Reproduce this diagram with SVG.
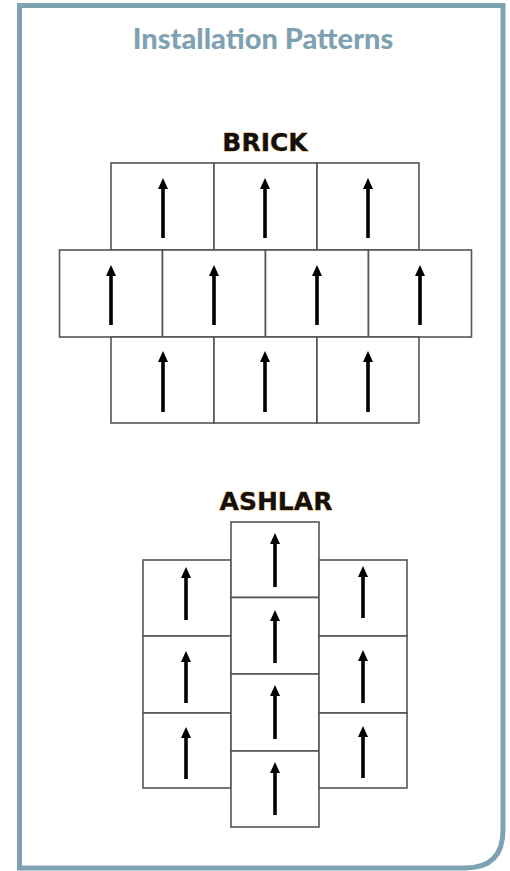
<svg xmlns="http://www.w3.org/2000/svg" width="510" height="871" viewBox="0 0 510 871">
<style>
.frame{fill:#ffffff;stroke:#7fa2b2;stroke-width:5}
.title{font-family:Lato,"Open Sans",sans-serif;font-weight:900;font-size:29px;fill:#7fa2b2}
.label{font-family:"DejaVu Sans","Liberation Sans",sans-serif;font-weight:bold;font-size:25px;fill:#111;stroke:#e9a23c;stroke-width:0.8;paint-order:stroke}
.tile{fill:#ffffff;stroke:#555555;stroke-width:1.6}
.arr{stroke:#000;stroke-width:3.6;fill:none;marker-end:url(#head)}
</style>
<defs>
<marker id="head" markerUnits="userSpaceOnUse" viewBox="0 0 12 11" markerWidth="12" markerHeight="11" refX="1" refY="5.5" orient="auto">
<path d="M0,0.5 L11,5.5 L0,10.5 z" fill="#000"/>
</marker>
</defs>
<path class="frame" d="M19.5,5.5 H503 V830 Q503,868 465,868 H19.5 Z"/>
<text class="title" x="263" y="49" text-anchor="middle">Installation Patterns</text>

<g id="brick">
<text class="label" x="265" y="151" text-anchor="middle">BRICK</text>
<g id="b1"><rect class="tile" x="111" y="163" width="103" height="87"/><line class="arr" x1="163" y1="238" x2="163" y2="188"/></g>
<g id="b2"><rect class="tile" x="214" y="163" width="103" height="87"/><line class="arr" x1="265" y1="238" x2="265" y2="188"/></g>
<g id="b3"><rect class="tile" x="317" y="163" width="102" height="87"/><line class="arr" x1="368" y1="238" x2="368" y2="188"/></g>
<g id="b4"><rect class="tile" x="59.5" y="250" width="103" height="87"/><line class="arr" x1="111" y1="325" x2="111" y2="275"/></g>
<g id="b5"><rect class="tile" x="162.5" y="250" width="103" height="87"/><line class="arr" x1="214" y1="325" x2="214" y2="275"/></g>
<g id="b6"><rect class="tile" x="265.5" y="250" width="103" height="87"/><line class="arr" x1="317" y1="325" x2="317" y2="275"/></g>
<g id="b7"><rect class="tile" x="368.5" y="250" width="103" height="87"/><line class="arr" x1="420" y1="325" x2="420" y2="275"/></g>
<g id="b8"><rect class="tile" x="111" y="337" width="103" height="86"/><line class="arr" x1="163" y1="412" x2="163" y2="361"/></g>
<g id="b9"><rect class="tile" x="214" y="337" width="103" height="86"/><line class="arr" x1="265" y1="412" x2="265" y2="361"/></g>
<g id="b10"><rect class="tile" x="317" y="337" width="102" height="86"/><line class="arr" x1="368" y1="412" x2="368" y2="361"/></g>
</g>

<g id="ashlar">
<text class="label" x="276" y="510" text-anchor="middle">ASHLAR</text>
<g id="a1"><rect class="tile" x="143" y="560" width="88" height="76"/><line class="arr" x1="186" y1="620" x2="186" y2="577"/></g>
<g id="a2"><rect class="tile" x="143" y="636" width="88" height="77"/><line class="arr" x1="186" y1="703" x2="186" y2="661"/></g>
<g id="a3"><rect class="tile" x="143" y="713" width="88" height="75"/><line class="arr" x1="186" y1="779" x2="186" y2="737"/></g>
<g id="a4"><rect class="tile" x="231" y="522" width="88" height="75.5"/><line class="arr" x1="275" y1="587" x2="275" y2="543"/></g>
<g id="a5"><rect class="tile" x="231" y="597.5" width="88" height="76.5"/><line class="arr" x1="275" y1="663" x2="275" y2="620"/></g>
<g id="a6"><rect class="tile" x="231" y="674" width="88" height="77"/><line class="arr" x1="275" y1="739" x2="275" y2="695"/></g>
<g id="a7"><rect class="tile" x="231" y="751" width="88" height="76"/><line class="arr" x1="275" y1="815" x2="275" y2="772"/></g>
<g id="a8"><rect class="tile" x="319" y="560" width="88" height="76"/><line class="arr" x1="363" y1="618" x2="363" y2="576"/></g>
<g id="a9"><rect class="tile" x="319" y="636" width="88" height="77"/><line class="arr" x1="363" y1="703" x2="363" y2="660"/></g>
<g id="a10"><rect class="tile" x="319" y="713" width="88" height="75"/><line class="arr" x1="363" y1="778" x2="363" y2="736"/></g>
</g>
</svg>
